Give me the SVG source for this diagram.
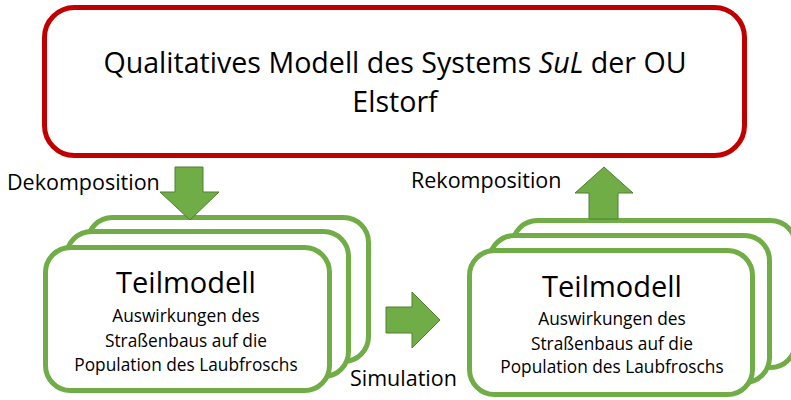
<svg xmlns="http://www.w3.org/2000/svg" width="791" height="400" viewBox="0 0 791 400">
<style>
.bg{fill:#ffffff}
.main{fill:#ffffff;stroke:#C00000;stroke-width:5}
.card{fill:#ffffff;stroke:#70AD47;stroke-width:5}
.arrow{fill:#70AD47;stroke:#507E32;stroke-width:1}
text{font-family:"Open Sans","Noto Sans","Liberation Sans",sans-serif;fill:#000000;text-anchor:middle}
.title{font-size:28.6px}
.lbl{font-size:21.5px;text-anchor:start}
.head{font-size:29px}
.sub{font-size:17.3px}
</style>
<rect class="bg" x="0" y="0" width="791" height="400"/>
<g id="main-model">
<rect class="main" x="44.5" y="7.5" width="700" height="148" rx="30"/>
<text class="title" x="395" y="73">Qualitatives Modell des Systems <tspan font-style="italic">SuL</tspan> der OU</text>
<text class="title" x="395" y="112">Elstorf</text>
</g>
<g id="teilmodell-left">
<rect class="card" x="87.5" y="217.5" width="281" height="144" rx="25"/>
<rect class="card" x="66.5" y="231.5" width="282" height="145" rx="25"/>
<rect class="card" x="45.5" y="247.5" width="284" height="143" rx="25"/>
<text class="head" x="186" y="293">Teilmodell</text>
<text class="sub" x="186" y="322">Auswirkungen des</text>
<text class="sub" x="186" y="347">Straßenbaus auf die</text>
<text class="sub" x="186" y="371">Population des Laubfroschs</text>
</g>
<g id="teilmodell-right">
<rect class="card" x="512.5" y="220.5" width="283" height="147" rx="25"/>
<rect class="card" x="489.5" y="235.5" width="280" height="147" rx="25"/>
<rect class="card" x="469.5" y="250.5" width="283" height="144" rx="25"/>
<text class="head" x="612" y="297">Teilmodell</text>
<text class="sub" x="612" y="325">Auswirkungen des</text>
<text class="sub" x="612" y="350">Straßenbaus auf die</text>
<text class="sub" x="612" y="373">Population des Laubfroschs</text>
</g>
<g id="connectors">
<g id="dekomposition">
<polygon class="arrow" points="175,167 203,167 203,192 219,192 190,220 160,192 175,192"/>
<text class="lbl" x="7" y="190">Dekomposition</text>
</g>
<g id="simulation">
<polygon class="arrow" points="386,307 412,307 412,292 440,320 412,348 412,333 386,333"/>
<text class="lbl" x="350" y="386">Simulation</text>
</g>
<g id="rekomposition">
<polygon class="arrow" points="589,219 618,219 618,193 633,193 604,167 575,193 589,193"/>
<text class="lbl" x="411" y="188">Rekomposition</text>
</g>
</g>
</svg>
